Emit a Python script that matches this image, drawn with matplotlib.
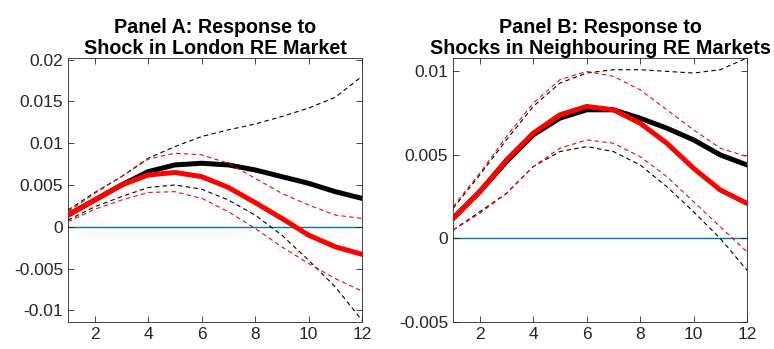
import numpy as np
import matplotlib
matplotlib.use("Agg")
import matplotlib.pyplot as plt
from matplotlib.ticker import FuncFormatter

plt.rcParams['font.family'] = ['Liberation Sans', 'DejaVu Sans']
plt.rcParams['axes.unicode_minus'] = False

#%% Impulse responses (horizons 1..12)
horizon = np.arange(1, 13)

# Panel A: shock in London RE market
a_black = [0.0014, 0.0032, 0.0050, 0.0066, 0.0074, 0.0076, 0.0074, 0.0068, 0.0060, 0.0052, 0.0042, 0.0034]
a_black_hi = [0.0020, 0.0041, 0.0060, 0.0082, 0.0096, 0.0108, 0.0116, 0.0123, 0.0132, 0.0142, 0.0155, 0.0180]
a_black_lo = [0.0008, 0.0024, 0.0036, 0.0047, 0.0050, 0.0045, 0.0032, 0.0014, -0.0010, -0.0040, -0.0072, -0.0112]
a_red = [0.0014, 0.0032, 0.0050, 0.0062, 0.0065, 0.0060, 0.0047, 0.0029, 0.0010, -0.0010, -0.0024, -0.0033]
a_red_hi = [0.0018, 0.0040, 0.0060, 0.0081, 0.0088, 0.0086, 0.0076, 0.0058, 0.0040, 0.0026, 0.0014, 0.0010]
a_red_lo = [0.0006, 0.0021, 0.0032, 0.0041, 0.0042, 0.0034, 0.0018, -0.0002, -0.0024, -0.0044, -0.0062, -0.0077]

# Panel B: shocks in neighbouring RE markets
b_black = [0.0012, 0.0028, 0.0046, 0.0062, 0.0072, 0.0077, 0.0077, 0.0072, 0.0066, 0.0059, 0.0050, 0.0044]
b_black_hi = [0.0018, 0.0038, 0.0059, 0.0079, 0.0093, 0.0099, 0.0101, 0.0101, 0.0100, 0.0099, 0.0101, 0.0108]
b_black_lo = [0.0005, 0.0016, 0.0027, 0.0043, 0.0052, 0.0055, 0.0052, 0.0044, 0.0031, 0.0016, 0.0000, -0.0019]
b_red = [0.0012, 0.0028, 0.0047, 0.0063, 0.0074, 0.0079, 0.0077, 0.0069, 0.0057, 0.0042, 0.0029, 0.0021]
b_red_hi = [0.0019, 0.0039, 0.0061, 0.0081, 0.0095, 0.0100, 0.0097, 0.0089, 0.0077, 0.0065, 0.0054, 0.0049]
b_red_lo = [0.0005, 0.0015, 0.0027, 0.0043, 0.0054, 0.0059, 0.0057, 0.0049, 0.0037, 0.0022, 0.0007, -0.0008]

titles = ['Panel A: Response to\nShock in London RE Market',
          'Panel B: Response to\nShocks in Neighbouring RE Markets']
a_yticks = [-0.01, -0.005, 0, 0.005, 0.01, 0.015, 0.02]
b_yticks = [-0.005, 0, 0.005, 0.01]

#%% Plot
fig = plt.figure(figsize=(7.74, 3.49), dpi=100)
ax_a = fig.add_axes([0.0879, 0.0774, 0.3798, 0.7564])
ax_b = fig.add_axes([0.5853, 0.0774, 0.3798, 0.7564])

panels = [
    (ax_a, a_black, a_black_hi, a_black_lo, a_red, a_red_hi, a_red_lo, a_yticks, (-0.0114, 0.0202)),
    (ax_b, b_black, b_black_hi, b_black_lo, b_red, b_red_hi, b_red_lo, b_yticks, (-0.005, 0.0108)),
]

for i, (ax, blk, blk_hi, blk_lo, red, red_hi, red_lo, yt, yl) in enumerate(panels):
    ax.axhline(0, color='#0072BD', lw=1.0, zorder=1)
    ax.plot(horizon, blk, color='black', lw=3.6, zorder=3)
    ax.plot(horizon, blk_hi, color='black', lw=0.8, dashes=(4, 3), zorder=4)
    ax.plot(horizon, blk_lo, color='black', lw=0.8, dashes=(4, 3), zorder=4)
    ax.plot(horizon, red, color='red', lw=3.6, zorder=5)
    ax.plot(horizon, red_hi, color='red', lw=0.8, dashes=(4, 3), zorder=6)
    ax.plot(horizon, red_lo, color='red', lw=0.8, dashes=(4, 3), zorder=6)

    ax.set_xlim(1, 12)
    ax.set_ylim(*yl)
    ax.set_xticks([2, 4, 6, 8, 10, 12])
    ax.set_yticks(yt)
    ax.yaxis.set_major_formatter(FuncFormatter(lambda v, p: '%g' % round(v, 6)))
    ax.tick_params(direction='in', top=True, right=True, length=4, width=0.6,
                   colors='#262626', labelsize=12.5, labelcolor='#262626')
    for s in ax.spines.values():
        s.set_color('#262626')
        s.set_linewidth(0.6)
    ax.set_title(titles[i], fontsize=14.2, fontweight='bold', linespacing=1.15, pad=3)

fig.savefig('out.png', dpi=100)
